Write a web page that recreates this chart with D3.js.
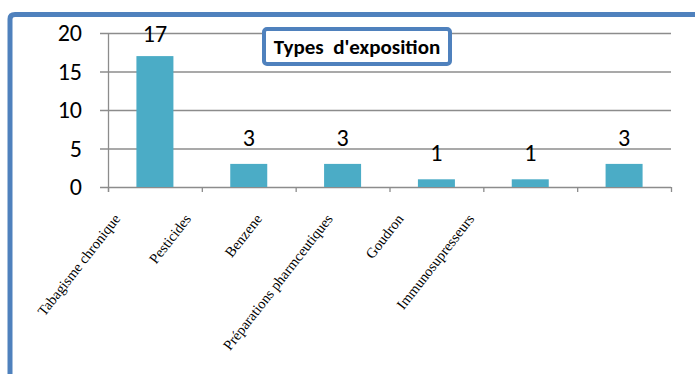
<!DOCTYPE html>
<html>
<head>
<meta charset="utf-8">
<script src="https://cdn.jsdelivr.net/npm/d3@7"></script>
<style>
  body { margin: 0; background: #fff; }
  svg { display: block; }
</style>
</head>
<body>
<div id="chart"></div>
<script>
const categories = ['Tabagisme chronique', 'Pesticides', 'Benzene', 'Préparations pharmceutiques', 'Goudron', 'Immunosupresseurs'];
const values = [17, 3, 3, 1, 1, 3];
const yTicks = [0, 5, 10, 15, 20];
const title = "Types  d'exposition";

const w = 695;
const h = 374;
const plotLeft = 108, plotRight = 671, plotTop = 33, plotBottom = 187;
const sansFont = 'Carlito, Calibri, "Open Sans", sans-serif';

const svg = d3.select('#chart')
  .append('svg')
  .attr('width', w)
  .attr('height', h);

// outer frame (only top and left edges visible)
svg.append('path')
   .attr('d', `M10,${h + 5} L10,19 Q10,14.5 15,14.5 L${w + 5},14.5`)
   .attr('fill', 'none')
   .attr('stroke', '#4f81bd')
   .attr('stroke-width', 5);

const x = d3.scaleBand()
            .domain(categories)
            .range([plotLeft, plotRight])
            .paddingInner(0)
            .paddingOuter(0);

const y = d3.scaleLinear()
            .domain([0, 20])
            .range([plotBottom, plotTop]);

// gridlines
svg.append('g')
   .selectAll('line')
   .data(yTicks)
   .enter()
   .append('line')
   .attr('x1', plotLeft - 8)
   .attr('x2', plotRight)
   .attr('y1', d => y(d) + 0.5)
   .attr('y2', d => y(d) + 0.5)
   .attr('stroke', '#8c8c8c')
   .attr('stroke-width', 1.3);

// y axis line
svg.append('line')
   .attr('x1', plotLeft + 0.5).attr('x2', plotLeft + 0.5)
   .attr('y1', plotTop).attr('y2', plotBottom + 5)
   .attr('stroke', '#8c8c8c')
   .attr('stroke-width', 1.3);

// x ticks at band boundaries
const bounds = categories.map(c => x(c)).concat([plotRight]);
svg.append('g')
   .selectAll('line')
   .data(bounds)
   .enter()
   .append('line')
   .attr('x1', d => d + 0.5).attr('x2', d => d + 0.5)
   .attr('y1', plotBottom).attr('y2', plotBottom + 5)
   .attr('stroke', '#8c8c8c')
   .attr('stroke-width', 1.3);

// y tick labels
svg.append('g')
   .selectAll('text')
   .data(yTicks)
   .enter()
   .append('text')
   .attr('x', 82)
   .attr('y', d => y(d) + 8)
   .attr('text-anchor', 'end')
   .attr('font-family', sansFont)
   .attr('font-size', 24)
   .attr('fill', '#000')
   .text(d => d);

// bars
const barW = 37;
svg.append('g')
   .selectAll('rect')
   .data(values)
   .enter()
   .append('rect')
   .attr('x', (d, i) => x(categories[i]) + x.bandwidth() / 2 - barW / 2)
   .attr('y', d => y(d))
   .attr('width', barW)
   .attr('height', d => y(0) - y(d))
   .attr('fill', '#4bacc6');

// value labels
svg.append('g')
   .selectAll('text')
   .data(values)
   .enter()
   .append('text')
   .attr('x', (d, i) => x(categories[i]) + x.bandwidth() / 2)
   .attr('y', d => y(d) - (d > 15 ? 14 : 18))
   .attr('text-anchor', 'middle')
   .attr('font-family', sansFont)
   .attr('font-size', 24)
   .attr('fill', '#000')
   .text(d => d);

// category labels (rotated)
const lx = d3.scalePoint()
             .domain(categories)
             .range([121, 475]);
svg.append('g')
   .selectAll('text')
   .data(categories)
   .enter()
   .append('text')
   .attr('transform', d => `translate(${lx(d)}, 219) rotate(-52)`)
   .attr('text-anchor', 'end')
   .attr('font-family', '"Liberation Serif", "Times New Roman", serif')
   .attr('font-size', 14.5)
   .attr('fill', '#000')
   .text(d => d);

// title box
const tb = svg.append('g');
tb.append('rect')
  .attr('x', 264).attr('y', 29)
  .attr('width', 186).attr('height', 35)
  .attr('rx', 3)
  .attr('fill', '#fff')
  .attr('stroke', '#4f81bd')
  .attr('stroke-width', 4);
tb.append('text')
  .attr('x', 357).attr('y', 54)
  .attr('text-anchor', 'middle')
  .attr('xml:space', 'preserve')
  .style('white-space', 'pre')
  .attr('font-family', sansFont)
  .attr('font-weight', 'bold')
  .attr('font-size', 21)
  .attr('fill', '#000')
  .text(title);
</script>
</body>
</html>
